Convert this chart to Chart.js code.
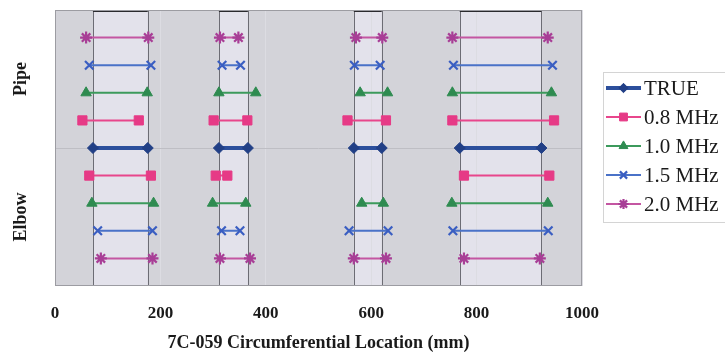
<!DOCTYPE html>
<html><head><meta charset="utf-8">
<script src="https://cdn.jsdelivr.net/npm/chart.js@4/dist/chart.umd.min.js"></script>
<style>html,body{margin:0;padding:0;background:#fff;}#wrap{width:725px;height:354px;position:relative;}</style>
</head><body><div id="wrap"><canvas id="c"></canvas></div>
<script>
// ---- data (mm) ----
const seriesNames = ['TRUE', '0.8 MHz', '1.0 MHz', '1.5 MHz', '2.0 MHz'];
const sectionLabels = ['Pipe', 'Elbow'];
const sectionRanges = [[0, 5], [5, 10]];
const xTickValues = [0, 200, 400, 600, 800, 1000];
// row (category) of each series inside each section
const pipeRows  = [5, 4, 3, 2, 1];
const elbowRows = [5, 6, 7, 8, 9];
// segments [start, end]
const trueSegs = [[72, 176], [311, 366], [567, 620], [768, 923]];
const pipe08 = [[52, 159], [301, 365], [555, 628], [754, 947]];
const pipe10 = [[59, 175], [311, 381], [579, 631], [754, 942]];
const pipe15 = [[65, 182], [317, 352], [568, 617], [756, 944]];
const pipe20 = [[59, 177], [313, 348], [571, 621], [754, 935]];
const elbow08 = [[65, 182], [305, 327], [776, 938]];
const elbow10 = [[70, 187], [299, 362], [582, 623], [753, 935]];
const elbow15 = [[81, 185], [316, 351], [558, 632], [755, 936]];
const elbow20 = [[87, 185], [313, 370], [567, 628], [776, 920]];

const pipeSegs  = [trueSegs, pipe08, pipe10, pipe15, pipe20];
const elbowSegs = [[], elbow08, elbow10, elbow15, elbow20];

// ---- styles ----
const lineColors  = ['#2c4f9c', '#e8468c', '#3c9a5c', '#4a72c8', '#c456a2'];
const pointColors = ['#213f86', '#e63a86', '#2e8b50', '#3a5ec2', '#a83e96'];
const pointStyles = ['rectRot', 'rect', 'triangle', 'crossRot', 'star'];
const pointRadii  = [5.5, 6.5, 6, 6, 6];
const lineWidths  = [4, 2, 2, 2, 2];
const serif = "'Liberation Serif', 'Times New Roman', serif";

function build(i) {
  const pts = [];
  const add = (segs, row) => segs.forEach(s => {
    pts.push({x: s[0], y: row}, {x: s[1], y: row}, {x: null, y: null});
  });
  add(pipeSegs[i], pipeRows[i]);
  add(elbowSegs[i], elbowRows[i]);
  return pts;
}

const datasets = seriesNames.map((n, i) => ({
  label: n,
  data: build(i),
  borderColor: lineColors[i],
  backgroundColor: pointColors[i],
  pointBorderColor: pointColors[i],
  pointBackgroundColor: pointColors[i],
  pointStyle: pointStyles[i],
  pointRadius: pointRadii[i],
  pointHoverRadius: pointRadii[i],
  pointBorderWidth: (i >= 3) ? 2.2 : 1,
  borderWidth: lineWidths[i],
  spanGaps: false,
  tension: 0
}));

const decor = {
  id: 'decor',
  beforeDraw(chart) {
    const {ctx, chartArea: a, scales: {x}} = chart;
    ctx.save();
    ctx.fillStyle = '#d3d3d9';
    ctx.fillRect(a.left, a.top, a.right - a.left, a.bottom - a.top);
    ctx.fillStyle = '#e3e2eb';
    trueSegs.forEach(s => {
      const l = x.getPixelForValue(s[0]), r = x.getPixelForValue(s[1]);
      ctx.fillRect(l, a.top, r - l, a.bottom - a.top);
    });
    ctx.restore();
  },
  beforeDatasetsDraw(chart) {
    const {ctx, chartArea: a, scales: {x}} = chart;
    ctx.save();
    ctx.strokeStyle = '#6c6c74';
    ctx.lineWidth = 1;
    trueSegs.forEach(s => {
      s.forEach(v => {
        const p = Math.round(x.getPixelForValue(v)) + 0.5;
        ctx.beginPath(); ctx.moveTo(p, a.top); ctx.lineTo(p, a.bottom); ctx.stroke();
      });
    });
    ctx.strokeStyle = '#2a2a2e';
    ctx.lineWidth = 2;
    trueSegs.forEach(s => {
      const l = x.getPixelForValue(s[0]), r = x.getPixelForValue(s[1]);
      ctx.beginPath(); ctx.moveTo(l, a.top + 1); ctx.lineTo(r, a.top + 1); ctx.stroke();
    });
    ctx.strokeStyle = '#9c9ca2';
    ctx.lineWidth = 1;
    ctx.strokeRect(a.left + 0.5, a.top + 0.5, a.right - a.left - 1, a.bottom - a.top - 1);
    ctx.restore();
  },
  afterDraw(chart) {
    const {ctx, scales: {y}} = chart;
    ctx.save();
    // section labels
    ctx.fillStyle = '#1a1a1a';
    ctx.font = 'bold 18px ' + serif;
    ctx.textAlign = 'center';
    ctx.textBaseline = 'middle';
    sectionLabels.forEach((t, k) => {
      const yc = y.getPixelForValue((sectionRanges[k][0] + sectionRanges[k][1]) / 2);
      ctx.save(); ctx.translate(21, yc); ctx.rotate(-Math.PI / 2); ctx.fillText(t, 0, 0); ctx.restore();
    });
    // legend
    const lx = 603, ly = 72, lh = 150, step = 29, y0 = 88;
    ctx.strokeStyle = '#d4d4d4';
    ctx.lineWidth = 1;
    ctx.strokeRect(lx + 0.5, ly + 0.5, 140, lh);
    chart.data.datasets.forEach((ds, i) => {
      const yy = y0 + i * step;
      ctx.strokeStyle = ds.borderColor;
      ctx.lineWidth = ds.borderWidth;
      ctx.beginPath(); ctx.moveTo(606, yy); ctx.lineTo(641, yy); ctx.stroke();
      ctx.fillStyle = ds.pointBackgroundColor;
      ctx.strokeStyle = ds.pointBorderColor;
      ctx.lineWidth = ds.pointBorderWidth;
      Chart.helpers.drawPoint(ctx, {
        pointStyle: ds.pointStyle, radius: ds.pointRadius * 0.85, borderWidth: ds.pointBorderWidth, rotation: 0
      }, 623.5, yy);
      ctx.fillStyle = '#1a1a1a';
      ctx.font = '21px ' + serif;
      ctx.textAlign = 'left';
      ctx.textBaseline = 'middle';
      ctx.fillText(ds.label, 644, yy + 1);
    });
    ctx.restore();
  }
};

new Chart(document.getElementById('c'), {
  type: 'line',
  data: {datasets},
  plugins: [decor],
  options: {
    responsive: true,
    maintainAspectRatio: false,
    animation: false,
    events: [],
    layout: {padding: {left: 55, right: 143, top: 10, bottom: 0}},
    plugins: {legend: {display: false}, tooltip: {enabled: false}},
    scales: {
      x: {
        type: 'linear', min: 0, max: 1000,
        afterBuildTicks: s => { s.ticks = xTickValues.map(v => ({value: v})); },
        afterFit: s => { s.height = 68; },
        grid: {color: '#dcdce2', drawTicks: false},
        border: {display: false},
        ticks: {padding: 17, color: '#1a1a1a', font: {family: serif, size: 17, weight: 'bold'}, maxRotation: 0,
                callback: v => String(v)},
        title: {display: true, text: '7C-059 Circumferential Location (mm)', color: '#1a1a1a',
                font: {family: serif, size: 18, weight: 'bold'}, padding: {top: 0, bottom: 0}}
      },
      y: {
        type: 'linear', min: 0, max: 10, reverse: true,
        afterBuildTicks: s => { s.ticks = [{value: 5}]; },
        grid: {color: '#bebec4', drawTicks: false},
        border: {display: false},
        ticks: {display: false}
      }
    }
  }
});
</script></body></html>
